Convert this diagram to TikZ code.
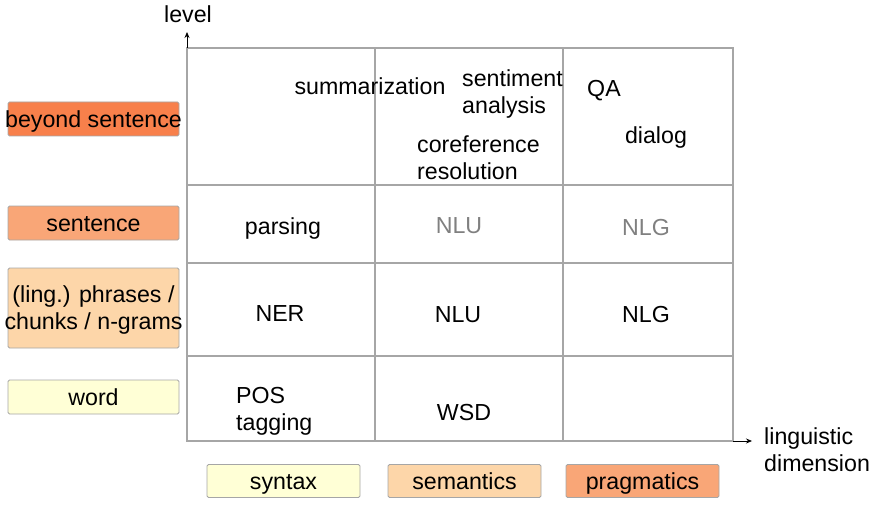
\documentclass[tikz,border=0pt]{standalone}
\usepackage{fontspec}
\setmainfont{Liberation Sans}
\usetikzlibrary{arrows.meta}
\definecolor{gridgray}{HTML}{A6A6A6}
\definecolor{cbeyond}{HTML}{F8804B}
\definecolor{csent}{HTML}{F9A677}
\definecolor{cphr}{HTML}{FDD6A9}
\definecolor{cword}{HTML}{FFFFD6}
\definecolor{textgray}{HTML}{808080}
\tikzset{
  txt/.style={inner sep=0pt, font=\fontsize{23.2}{27}\selectfont},
  one/.style={text height=19.8pt, text depth=2pt},
  lbox/.style={draw=gridgray, line width=0.9pt, rounded corners=1.5pt, inner sep=0pt, font=\fontsize{23.2}{27}\selectfont, align=center},
  gridline/.style={draw=gridgray, line width=1.3pt},
  axis/.style={draw=black, line width=0.8pt, -{Stealth[length=6pt,width=5pt]}}
}
\begin{document}
\begin{tikzpicture}[x=1pt,y=-1pt]
\useasboundingbox (0,0) rectangle (875,508);
% grid
\draw[gridline] (187,48) rectangle (733,441);
\draw[gridline] (375,48) -- (375,441);
\draw[gridline] (563,48) -- (563,441);
\draw[gridline] (187,185) -- (733,185);
\draw[gridline] (187,263) -- (733,263);
\draw[gridline] (187,356) -- (733,356);
% axes
\coordinate (ytop) at (187,32);
\coordinate (ybase) at (187,48);
\coordinate (xbase) at (733,441);
\coordinate (xend) at (752,441);
\draw[axis] (ybase) -- (ytop);
\draw[axis] (xbase) -- (xend);
\node[txt, one] (level) at (188,14) {level};
\node[txt, align=left, anchor=west] (ling) at (764,450) {linguistic\\dimension};
% left boxes
\node[lbox, fill=cbeyond, minimum width=171pt, minimum height=34pt] (beyond) at (93.5,119) {};
\node[txt, one] (beyondtxt) at (beyond.center) {beyond sentence};
\node[lbox, one, fill=csent, minimum width=171pt, minimum height=34pt] (sentence) at (93.5,223) {sentence};
\node[lbox, fill=cphr, minimum width=171pt, minimum height=80pt] (phrases) at (93.5,308) {};
\node[txt, align=center, text depth=0pt] (phrasestxt) at (phrases.center) {(ling.) phrases /\\chunks / n-grams};
\node[lbox, one, fill=cword, minimum width=171pt, minimum height=34pt] (word) at (93.5,397) {word};
% bottom boxes
\node[lbox, one, fill=cword, minimum width=153pt, minimum height=33pt] (syntax) at (283.5,481) {syntax};
\node[lbox, one, fill=cphr, minimum width=153pt, minimum height=33pt] (semantics) at (464.5,481) {semantics};
\node[lbox, one, fill=csent, minimum width=153pt, minimum height=33pt] (pragmatics) at (642.5,481) {pragmatics};
% cell texts
\node[txt, one] (summ) at (370,86) {summarization};
\node[txt, align=left, anchor=west] (senti) at (462,94) {sentiment\\analysis};
\node[txt, align=left, anchor=west] (coref) at (417,158) {coreference\\resolution};
\node[txt, one] (qa) at (604,88) {QA};
\node[txt, one] (dialog) at (656,135) {dialog};
\node[txt, one] (parsing) at (283,226) {parsing};
\node[txt, one, text=textgray] (nlu1) at (459,225) {NLU};
\node[txt, one, text=textgray] (nlg1) at (646,227) {NLG};
\node[txt, one] (ner) at (280,313) {NER};
\node[txt, one] (nlu2) at (458,314) {NLU};
\node[txt, one] (nlg2) at (646,314) {NLG};
\node[txt, align=left, anchor=west] (pos) at (236,411) {POS\\tagging};
\node[txt, one] (wsd) at (464,412) {WSD};
\end{tikzpicture}
\end{document}
